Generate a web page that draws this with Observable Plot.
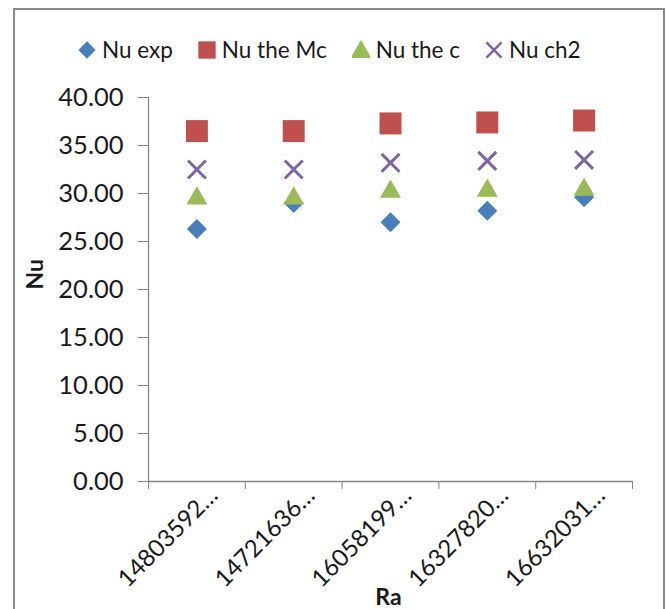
<!DOCTYPE html>
<html>
<head>
<meta charset="utf-8">
<script src="https://cdn.jsdelivr.net/npm/d3@7"></script>
<script src="https://cdn.jsdelivr.net/npm/@observablehq/plot@0.6"></script>
<style>
  html, body { margin: 0; padding: 0; background: #fff; }
  body { width: 667px; height: 609px; position: relative; overflow: hidden; font-family: Lato, sans-serif; }
  #frame { position: absolute; left: 13px; top: 8px; width: 648px; height: 640px; border: 2px solid #8a8a8a; border-bottom: none; }
  #legend { position: absolute; left: 78px; top: 36px; display: flex; align-items: center; font-size: 22.5px; color: #1a1a1a; }
  .item { display: flex; align-items: center; margin-right: 25px; }
  .item svg { margin-right: 6px; }
  #chart { position: absolute; left: 0; top: 0; }
</style>
</head>
<body>
<div id="frame"></div>
<div id="chart"></div>
<div id="legend"></div>
<script>
// ---- data ----
const raLabels = ["14803592…", "14721636…", "16058199…", "16327820…", "16632031…"];
const seriesNames = ["Nu exp", "Nu the Mc", "Nu the c", "Nu ch2"];
const nuExp = [26.3, 29.0, 27.0, 28.2, 29.6];
const nuMc  = [36.5, 36.5, 37.3, 37.4, 37.6];
const nuC   = [29.8, 29.8, 30.5, 30.6, 30.7];
const nuCh2 = [32.5, 32.5, 33.2, 33.4, 33.5];
const yTicks = [0, 5, 10, 15, 20, 25, 30, 35, 40];

const colors = ["#4a7ebb", "#c0504d", "#9bbb59", "#8064a2"];

const rows = vals => vals.map((v, i) => ({x: i + 0.5, y: v, label: raLabels[i]}));
const axisGray = "#868686";

const chart = Plot.plot({
  width: 667,
  height: 609,
  marginLeft: 148,
  marginRight: 35,
  marginTop: 97,
  marginBottom: 128,
  style: {fontFamily: "Lato, sans-serif", fontSize: "23px", color: "#1a1a1a", background: "transparent", overflow: "visible"},
  x: {type: "linear", domain: [0, raLabels.length]},
  y: {domain: [0, 40]},
  marks: [
    Plot.axisY({ticks: yTicks, tickFormat: d3.format(".2f"), tickSize: 10, tickPadding: 15, stroke: axisGray, fontSize: 25.5, label: null}),
    Plot.axisX({ticks: d3.range(raLabels.length + 1), tickFormat: () => "", tickSize: 8, stroke: axisGray, label: null}),
    Plot.axisX({ticks: raLabels.map((_, i) => i + 0.5), tickFormat: d => raLabels[Math.round(d - 0.5)], tickSize: 0, tickRotate: -45, tickPadding: 10, dx: 17, fontSize: 24, label: null}),
    Plot.ruleY([0], {stroke: axisGray, strokeWidth: 1.3}),
    Plot.ruleX([0], {stroke: axisGray, strokeWidth: 1.3}),
    Plot.text(["Nu"], {text: d => d, frameAnchor: "left", rotate: -90, dx: -113, fontWeight: "bold", fontSize: 23}),
    Plot.text(["Ra"], {text: d => d, frameAnchor: "bottom", dy: 123, dx: -2, fontWeight: "bold", fontSize: 23}),
    Plot.dot(rows(nuExp), {x: "x", y: "y", symbol: "diamond2", r: 9, fill: colors[0], stroke: "none"}),
    Plot.dot(rows(nuMc),  {x: "x", y: "y", symbol: "square", r: 12.4, fill: colors[1], stroke: "none"}),
    Plot.dot(rows(nuC),   {x: "x", y: "y", symbol: "triangle", r: 7.8, dy: 3, fill: colors[2], stroke: "none"}),
    Plot.dot(rows(nuCh2), {x: "x", y: "y", symbol: "times", r: 8.2, stroke: colors[3], strokeWidth: 3})
  ]
});
document.getElementById("chart").append(chart);

// ---- legend ----
const legend = d3.select("#legend");
const legendSymbols = [d3.symbolDiamond2, d3.symbolSquare, d3.symbolTriangle, d3.symbolTimes];
const legendSizes = [190, 300, 190, 150];
seriesNames.forEach((name, i) => {
  const item = legend.append("div").attr("class", "item");
  const svg = item.append("svg").attr("width", 18).attr("height", 20).attr("viewBox", "-9 -10 18 20");
  const path = svg.append("path").attr("d", d3.symbol(legendSymbols[i], legendSizes[i])());
  if (i === 3) path.attr("fill", "none").attr("stroke", colors[i]).attr("stroke-width", 2.5);
  else path.attr("fill", colors[i]).attr("transform", i === 2 ? "translate(0,2)" : null);
  item.append("span").text(name);
});
</script>
</body>
</html>
